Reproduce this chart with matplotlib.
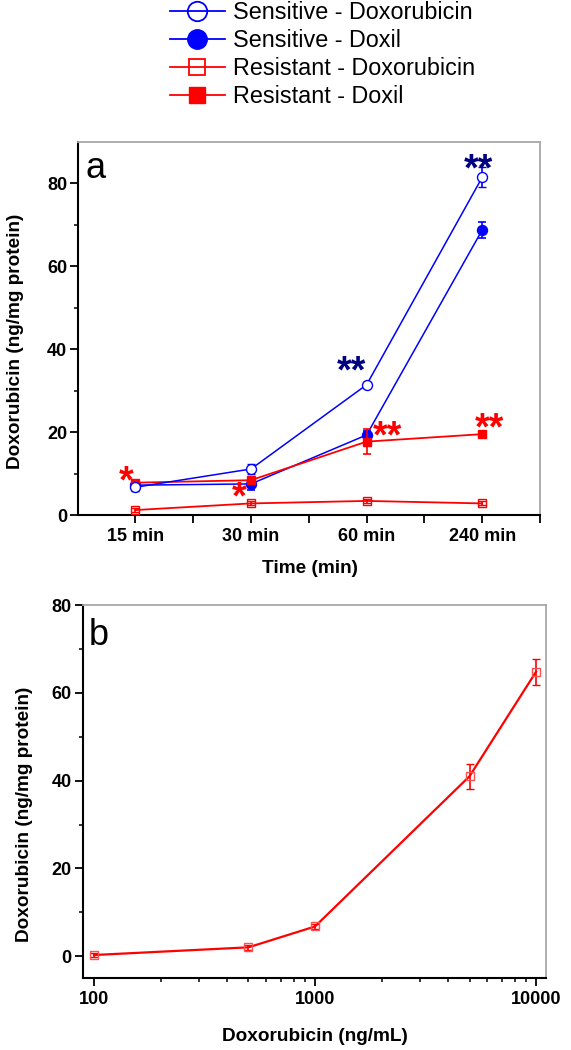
import matplotlib
matplotlib.use("Agg")
import matplotlib.pyplot as plt
from matplotlib.lines import Line2D
from matplotlib.ticker import FixedLocator, NullFormatter, FixedFormatter
import numpy as np

plt.rcParams['font.family'] = ['Liberation Sans', 'DejaVu Sans']

# ---- Panel a data ----
times = ['15 min', '30 min', '60 min', '240 min']
sens_doxo = [6.7, 11.1, 31.4, 81.4]
sens_doxo_err = [0.8, 1.1, 0.6, 2.4]
sens_doxil = [7.2, 7.5, 19.3, 68.7]
sens_doxil_err = [0.6, 1.5, 1.0, 2.0]
res_doxo = [1.2, 2.8, 3.4, 2.8]
res_doxo_err = [0.5, 0.5, 0.5, 0.5]
res_doxil = [7.8, 8.4, 17.7, 19.5]
res_doxil_err = [0.6, 0.6, 3.0, 0.6]

# significance marks: (text, x index, y value, colour)
stars_text = ['**', '**', '**', '**', '*', '*']
stars_x = [2.97, 1.87, 2.18, 3.06, -0.08, 0.9]
stars_y = [84.1, 35.3, 19.7, 21.5, 8.7, 5.0]
stars_col = ['#000080', '#000080', 'red', 'red', 'red', 'red']

# ---- Panel b data ----
conc = [100, 500, 1000, 5000, 10000]
uptake = [0.3, 2.05, 6.8, 41.0, 64.8]
uptake_err = [0.5, 0.5, 0.5, 2.9, 3.0]

BLUE = '#0000ff'
RED = '#ff0000'

fig = plt.figure(figsize=(5.71, 10.5), dpi=100)
ax1 = fig.add_axes([0.136, 0.5095, 0.8096, 0.3555])
ax2 = fig.add_axes([0.146, 0.0683, 0.8103, 0.3555])

x = np.arange(len(times))
ekw = dict(capsize=3, capthick=1.2, elinewidth=1.2)
ax1.errorbar(x, res_doxo, yerr=res_doxo_err, color=RED, lw=1.3, marker='s', ms=5.8,
             mfc='none', mec=RED, mew=1.0, zorder=3, **ekw)
ax1.errorbar(x, sens_doxil, yerr=sens_doxil_err, color=BLUE, lw=1.1, marker='o', ms=7.2,
             mfc=BLUE, mec=BLUE, zorder=4, **ekw)
ax1.errorbar(x, res_doxil, yerr=res_doxil_err, color=RED, lw=1.3, marker='s', ms=6.2,
             mfc=RED, mec=RED, zorder=5, **ekw)
ax1.errorbar(x, sens_doxo, yerr=sens_doxo_err, color=BLUE, lw=1.1, marker='o', ms=7.2,
             mfc='white', mec=BLUE, mew=1.0, zorder=6, **ekw)

for t, sx, sy, c in zip(stars_text, stars_x, stars_y, stars_col):
    ax1.text(sx, sy, t, color=c, fontsize=27, fontweight='bold', ha='center',
             va='center_baseline', zorder=7)

ax1.set_xlim(-0.5, 3.5)
ax1.set_ylim(0, 90)
ax1.set_xticks(x)
ax1.set_xticklabels(times)
ax1.xaxis.set_minor_locator(FixedLocator([0.5, 1.5, 2.5, 3.5]))
ax1.set_yticks([0, 20, 40, 60, 80])
ax1.yaxis.set_minor_locator(FixedLocator([10, 30, 50, 70]))
ax1.set_xlabel('Time (min)', fontsize=13.7, fontweight='bold')
ax1.set_ylabel('Doxorubicin (ng/mg protein)', fontsize=13.7, fontweight='bold')
ax1.text(0.016, 0.975, 'a', transform=ax1.transAxes, fontsize=26, ha='left', va='top')

# panel b
ax2.errorbar(conc, uptake, yerr=uptake_err, color=RED, lw=1.6, marker='s', ms=6.2,
             mfc='none', mec='#ff5050', mew=1.0, **ekw)
ax2.set_xscale('log')
ax2.set_xlim(89.5, 11100)
ax2.set_ylim(-5, 80)
ax2.xaxis.set_major_locator(FixedLocator([100, 1000, 10000]))
ax2.xaxis.set_major_formatter(FixedFormatter(['100', '1000', '10000']))
ax2.xaxis.set_minor_locator(FixedLocator([200, 300, 400, 500, 600, 700, 800, 900,
                                          2000, 3000, 4000, 5000, 6000, 7000, 8000, 9000]))
ax2.xaxis.set_minor_formatter(NullFormatter())
ax2.set_yticks([0, 20, 40, 60, 80])
ax2.yaxis.set_minor_locator(FixedLocator([10, 30, 50, 70]))
ax2.set_xlabel('Doxorubicin (ng/mL)', fontsize=13.7, fontweight='bold')
ax2.set_ylabel('Doxorubicin (ng/mg protein)', fontsize=13.7, fontweight='bold')
ax2.text(0.012, 0.965, 'b', transform=ax2.transAxes, fontsize=26, ha='left', va='top')

for ax, ypad in ((ax1, 2), (ax2, 3)):
    for s in ('left', 'bottom'):
        ax.spines[s].set_linewidth(1.5)
        ax.spines[s].set_color('black')
    for s in ('top', 'right'):
        ax.spines[s].set_linewidth(1.3)
        ax.spines[s].set_color('#a8a8a8')
    ax.tick_params(which='major', direction='out', length=5.5, width=1.3, labelsize=13)
    ax.tick_params(which='minor', direction='out', length=3.2, width=1.1)
    ax.tick_params(axis='y', pad=ypad)
    ax.tick_params(axis='x', pad=4)
    for lab in ax.get_xticklabels() + ax.get_yticklabels():
        lab.set_fontweight('bold')

ax1.tick_params(axis='x', which='minor', length=5.5, width=1.3)

ax1.xaxis.set_label_coords(0.5025, -0.142)
ax1.xaxis.label.set_verticalalignment('center')
ax1.yaxis.set_label_coords(-0.1335, 0.466)
ax1.yaxis.label.set_verticalalignment('center')
ax2.xaxis.set_label_coords(0.5, -0.157)
ax2.xaxis.label.set_verticalalignment('center')
ax2.yaxis.set_label_coords(-0.128, 0.44)
ax2.yaxis.label.set_verticalalignment('center')

# legend
handles = [
    Line2D([], [], color=BLUE, lw=1.3, marker='o', ms=14, mfc='none', mec=BLUE, mew=1.3),
    Line2D([], [], color=BLUE, lw=1.3, marker='o', ms=14, mfc=BLUE, mec=BLUE),
    Line2D([], [], color=RED, lw=1.3, marker='s', ms=11, mfc='none', mec=RED, mew=1.3),
    Line2D([], [], color=RED, lw=1.3, marker='s', ms=11, mfc=RED, mec=RED),
]
labels = ['Sensitive - Doxorubicin', 'Sensitive - Doxil',
          'Resistant - Doxorubicin', 'Resistant - Doxil']
fig.legend(handles, labels, loc='upper left', bbox_to_anchor=(170 / 571, 0.999),
           frameon=False, fontsize=16.8, handlelength=2.35, handletextpad=0.35,
           labelspacing=0.22, borderaxespad=0, borderpad=0, handleheight=0.7)

fig.savefig('out.png', dpi=100)
